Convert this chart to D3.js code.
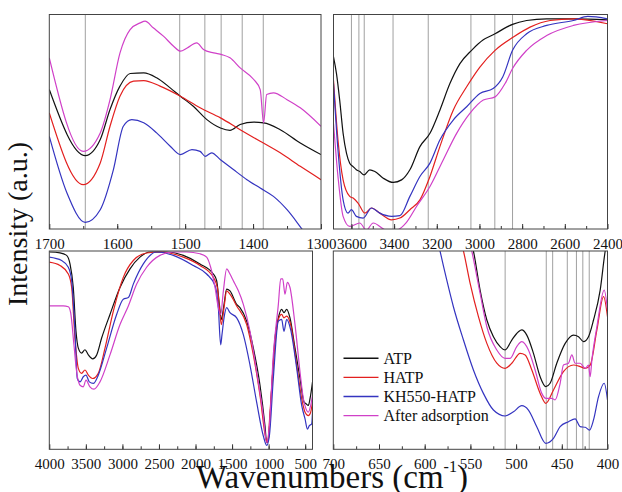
<!DOCTYPE html>
<html>
<head>
<meta charset="utf-8">
<script src="https://cdn.jsdelivr.net/npm/d3@7/dist/d3.min.js"></script>
<style>
  html, body { margin: 0; padding: 0; background: #fff; }
  svg { display: block; }
  text { font-family: "Liberation Serif", "Times New Roman", serif; fill: #111; }
</style>
</head>
<body>
<svg id="chart" width="622" height="492"></svg>
<script>
// Series names and legend labels
const seriesNames = ["ATP", "HATP", "KH550-HATP", "After adsorption"];

// Panel 1: 1700–1300 cm-1, [wavenumber, intensity a.u.]
const atp1 = [[1700,65],[1647,34.2],[1625,41.7],[1610.6,55.7],[1596,66.6],[1581,72.5],[1561,72.8],[1542,70.5],[1522,65.8],[1507,61.9],[1488,57.2],[1468,51],[1448,47.1],[1434,46],[1419,48.7],[1399,49.8],[1384.5,49.5],[1360,46.3],[1330.5,40.1],[1300,34.7]];
const hatp1 = [[1700,54.1],[1650,20.7],[1625,30.8],[1610.6,47.9],[1596,61.9],[1576,68.9],[1561,69.2],[1537,66.6],[1507,61.9],[1478,56.5],[1448,51.8],[1419,46.3],[1389.5,40.9],[1360,35.5],[1330.5,29.2],[1300,23]];
const kh1 = [[1700,43.2],[1674,16.8],[1647,3.1],[1625,9],[1605.6,27.7],[1591,47.9],[1578.6,51],[1561,49.5],[1542,44.8],[1522,38.6],[1507,34.7],[1490,37],[1478,36.2],[1470.5,33.9],[1461,35.5],[1448,32.3],[1429,27.7],[1409,23],[1389.5,19.1],[1370,15.2],[1350,9],[1328,0],[1316,-5]];
const ads1 = [[1700,79.8],[1650,36.2],[1625,44.8],[1610.6,60.3],[1596,82],[1581,93],[1566,96.1],[1559,96.9],[1547,93.8],[1532,89.9],[1517,85.2],[1507,82.9],[1497,84.4],[1483,86.8],[1473,83.7],[1458,82.1],[1446,81.3],[1434,79.8],[1419,75.1],[1399,69.7],[1389.5,65],[1384.5,49.5],[1380,62.7],[1370,63.5],[1350,60.3],[1330.5,56.5],[1300,47.9]];
const ticks1 = [1700, 1600, 1500, 1400, 1300];
const marks1 = [1647, 1508, 1471, 1447, 1416, 1385];

// Panel 2: 3684–2400 cm-1
const atp2 = [[3684,80.2],[3670,72.4],[3655,60.1],[3639,44.6],[3623,35.3],[3608,30.7],[3592,29.1],[3577,27.6],[3561,26.8],[3541,25.2],[3514,27.6],[3490,26.8],[3451,23.7],[3404,21.7],[3365,22.9],[3326,27.6],[3279,38.4],[3232,44.6],[3185.5,55.4],[3138.5,67.8],[3091.5,77.1],[3037,83.3],[2982,88.2],[2927,91],[2873,94.1],[2845,95.4],[2779,97.2],[2685,98],[2560,98],[2400,97.5]];
const hatp2 = [[3684,69.3],[3663,41.5],[3639,22.9],[3608,15.2],[3592,14.4],[3569,12.1],[3537,7.4],[3506,9.8],[3467,7.4],[3412,4.3],[3373,5.1],[3326,9],[3279,13.6],[3232,24.5],[3185.5,38.4],[3123,55.4],[3060,66.3],[2998,75.5],[2927,83.3],[2841,89.5],[2763,94.1],[2669,97.2],[2560,98],[2400,95.7]];
const kh2 = [[3684,67.8],[3663,36.8],[3639,13.6],[3616,7.4],[3600,9],[3577,5.9],[3545,5.1],[3506,9.8],[3467,7.4],[3412,5.9],[3373,6.2],[3326,15.2],[3279,24.5],[3232,30.7],[3185.5,41.5],[3123,50.8],[3060,57],[2998,63.2],[2936,65.5],[2891,70.9],[2845,83.3],[2779,91],[2685,94.9],[2560,97.2],[2492,99.1],[2400,98]];
const ads2 = [[3684,49.2],[3663,24.5],[3639,5.9],[3608,1.2],[3561,2.8],[3530,-0.5],[3498,2.8],[3436,-0.5],[3389,-0.5],[3342,3.1],[3295,10.5],[3232,19.8],[3170,32.2],[3107,44.6],[3045,53.9],[2982,60.1],[2927,61.6],[2880,67.8],[2845,74.8],[2779,83.3],[2685,90.2],[2560,94.9],[2400,97.2]];
const ticks2 = [3600, 3400, 3200, 3000, 2800, 2600, 2400];
const marks2 = [3600, 3565, 3540, 3405, 3240, 3040, 2928, 2845];

// Panel 3: full range 4000–400 cm-1
const atp3 = [[4000,99.5],[3854,99.1],[3763,97.8],[3717,93.5],[3672,81.6],[3635,59.5],[3603,51],[3558,48.5],[3512,50.2],[3466,47.6],[3407,45.6],[3352,47.6],[3284,56.1],[3170,68],[3033,81.6],[2896,91],[2760,96.9],[2623,99.5],[2395,99.5],[2167,97.8],[1939,93.5],[1756,88.4],[1711,85],[1674,73.1],[1647,65.5],[1610,73.1],[1574,80.8],[1529,79.9],[1437,73.1],[1392,71.4],[1300,64.6],[1209,51],[1118,32.3],[1050,11.9],[1027,3.4],[1004,5.1],[958,30.6],[913,56.1],[867,66.3],[822,70.6],[790,68.9],[753,70.6],[708,66.3],[639,51],[571,35.7],[516,23.8],[489,23],[457,22.1],[434,25.5],[400,34]];
const hatp3 = [[4000,94.4],[3854,92.7],[3740,88.4],[3694,81.6],[3649,56.1],[3603,40.8],[3558,38.3],[3512,40],[3466,37.4],[3407,35.7],[3330,38.3],[3238,51],[3124,69.7],[2988,86.7],[2851,95.2],[2669,99],[2486,99.5],[2167,96.9],[1939,92.7],[1756,86.7],[1702,81.6],[1665,68],[1647,62.9],[1610,71.4],[1574,79.9],[1529,78.2],[1437,72.3],[1300,62.9],[1209,47.6],[1118,27.2],[1036,5.1],[1013,3.4],[981,18.7],[927,47.6],[867,65.5],[822,68],[790,66.3],[753,67.2],[699,62.9],[616,42.5],[548,25.5],[502,18.7],[457,17],[425,18.7],[400,23.8]];
const kh3 = [[4000,96.9],[3831,95.2],[3740,91.8],[3694,85],[3649,59.5],[3617,35.7],[3580,34],[3535,36.6],[3498,37.4],[3453,34],[3398,33.2],[3330,37.4],[3216,51],[3079,68],[2988,75.7],[2919,76.5],[2851,83.3],[2714,93.5],[2532,99.5],[2304,97.8],[2030,92.7],[1848,88.4],[1733,82.5],[1688,71.4],[1656,52.7],[1638,57.8],[1610,66.3],[1574,71.4],[1529,68.9],[1437,66.3],[1346,57.8],[1255,42.5],[1164,23.8],[1073,6.8],[1027,2],[990,6.8],[936,35.7],[867,64.6],[822,65.5],[790,59.5],[753,65.5],[699,60.4],[616,40.8],[548,22.1],[502,15.3],[470,10.2],[443,11.9],[411,12.8],[400,18.7]];
const ads3 = [[4000,72.3],[3808,72.3],[3740,71.9],[3708,68.9],[3663,52.7],[3626,39.1],[3580,32.3],[3535,31.5],[3498,34.9],[3444,31.5],[3389,30.3],[3307,34],[3170,47.6],[3033,62.9],[2919,72.3],[2805,83.3],[2669,91.8],[2486,97.8],[2304,99.5],[2121,99.5],[1939,98.6],[1848,96.9],[1793,91.8],[1733,81.6],[1688,71.4],[1656,68],[1619,79.9],[1574,91],[1529,88.4],[1483,85],[1414,79.9],[1346,73.1],[1255,59.5],[1164,39.1],[1073,17],[1027,3.4],[990,11.9],[936,47.6],[867,73.1],[835,85.9],[808,85.9],[776,78.2],[744,84.2],[708,81.6],[639,62.9],[571,39.1],[525,25.5],[489,20.4],[457,18.7],[425,22.1],[400,27.2]];
const ticks3 = [4000, 3500, 3000, 2500, 2000, 1500, 1000, 500];
const marks3 = [];

// Panel 4: 700–400 cm-1
const atp4 = [[550,106],[546.7,100],[539.4,80.3],[532,65.2],[524.8,56.8],[517.5,51.8],[512,50.1],[504.7,55.1],[497.4,59.3],[493.8,60.2],[488.3,57.6],[481,48.4],[473.7,36.6],[467.5,31.6],[462.8,33.3],[455.5,43.4],[446.3,53.4],[437.2,57.6],[431.7,56.8],[426.3,54.3],[420.8,56.8],[415.3,65.2],[408,80.3],[402.5,100],[400,106]];
const hatp4 = [[561,106],[557.6,100],[550.3,83.7],[541.2,66.9],[532,53.4],[521.1,43.4],[512,40.8],[504.7,43.4],[495.6,48.4],[490.1,47.6],[482.8,40],[473.7,28.2],[467.5,23.2],[459.1,29.9],[448.2,39.2],[437.2,42.5],[429.9,41.7],[424.4,40.8],[418.9,42.5],[411.6,60.2],[404.3,77],[400,66.9]];
const kh4 = [[586,106],[583.2,100],[575.9,85.4],[568.6,71.9],[557.6,55.1],[546.7,40],[535.8,28.2],[524.8,19.8],[512,16.8],[502.9,18.9],[493.8,22],[486.5,19.8],[477.4,11.4],[467.5,3],[459.1,5.5],[451.8,11.4],[442.7,13.9],[435.4,15.3],[429.9,11.4],[424.4,11.1],[419.7,9.7],[415.3,14.8],[409.8,26.6],[403.6,33.3],[400,24.9]];
const ads4 = [[551.5,106],[548.5,100],[539.4,78.7],[532,61.8],[521.1,50.1],[512,45.9],[506.5,45.9],[499.3,51.8],[493.8,54.3],[486.5,50.1],[479.2,40],[471.9,28.2],[467.5,25.7],[460.9,25.7],[457.3,24.9],[451.8,33.3],[448.2,42.5],[442.7,43.4],[439,47.6],[435.4,43.4],[429.9,43.4],[424.4,40.8],[420.8,42.5],[419,36.6],[417.1,45],[411.6,61.8],[403.6,80.3],[400,70.3]];
const ticks4 = [700, 650, 600, 550, 500, 450, 400];
const marks4 = [512, 467, 460, 444, 434, 427, 420];

const colors = ["#111111", "#e3201f", "#3434c0", "#d040c8"];

const svg = d3.select("#chart");

// Panel frames in pixels and their axis settings
const panels = [
  { box: [49.3, 321, 14.5, 229], domain: [1700, 1300], ticks: ticks1, minor: 50, marks: marks1, data: [atp1, hatp1, kh1, ads1] },
  { box: [333.5, 607.5, 14.5, 229], domain: [3684, 2400], ticks: ticks2, minor: 100, marks: marks2, data: [atp2, hatp2, kh2, ads2] },
  { box: [49.3, 312.5, 251, 449.3], domain: [4000, 400], ticks: ticks3, minor: 250, marks: marks3, data: [atp3, hatp3, kh3, ads3] },
  { box: [333.3, 607.5, 251, 449.3], domain: [700, 400], ticks: ticks4, minor: 25, marks: marks4, data: [atp4, hatp4, kh4, ads4] }
];

panels.forEach((p, i) => {
  const [x0, x1, y0, y1] = p.box;
  const x = d3.scaleLinear().domain(p.domain).range([x0, x1]);
  const y = d3.scaleLinear().domain([0, 100]).range([y1, y0]);

  const clipId = "clip" + i;
  svg.append("clipPath").attr("id", clipId)
    .append("rect").attr("x", x0).attr("y", y0).attr("width", x1 - x0).attr("height", y1 - y0);

  const g = svg.append("g");

  // reference band positions
  g.selectAll("line.mark").data(p.marks).join("line")
    .attr("class", "mark")
    .attr("x1", d => x(d)).attr("x2", d => x(d))
    .attr("y1", y0).attr("y2", y1)
    .attr("stroke", "#a0a0a0").attr("stroke-width", 1);

  // spectra
  const line = d3.line().x(d => x(d[0])).y(d => y(d[1])).curve(d3.curveMonotoneX);
  const plot = g.append("g").attr("clip-path", `url(#${clipId})`);
  p.data.forEach((s, k) => {
    plot.append("path").datum(s)
      .attr("d", line)
      .attr("fill", "none")
      .attr("stroke", colors[k])
      .attr("stroke-width", 1.2)
      .attr("stroke-linejoin", "round");
  });

  // minor ticks (inward)
  const lo = Math.min(...p.domain), hi = Math.max(...p.domain);
  const minorVals = d3.range(Math.ceil(lo / p.minor) * p.minor, hi + 0.001, p.minor)
    .filter(v => v > lo && v < hi);
  const minorAxis = d3.axisBottom(x).tickValues(minorVals).tickSize(-3).tickFormat("");
  const ma = g.append("g").attr("transform", `translate(0,${y1})`).call(minorAxis);
  ma.select(".domain").remove();
  ma.selectAll("line").attr("stroke", "#333");

  // major ticks with labels
  const axis = d3.axisBottom(x).tickValues(p.ticks).tickSize(-5).tickPadding(9).tickFormat(d3.format("d"));
  const ax = g.append("g").attr("transform", `translate(0,${y1})`).call(axis);
  ax.select(".domain").remove();
  ax.selectAll("line").attr("stroke", "#333");
  ax.selectAll("text")
    .attr("font-family", "Liberation Serif, serif")
    .attr("font-size", 15)
    .attr("fill", "#111");

  // frame
  g.append("rect")
    .attr("x", x0).attr("y", y0).attr("width", x1 - x0).attr("height", y1 - y0)
    .attr("fill", "none").attr("stroke", "#444").attr("stroke-width", 1);

  // legend lives in the last panel
  if (i === 3) {
    const lg = g.append("g");
    seriesNames.forEach((name, k) => {
      const ly = 358.3 + k * 19.1;
      lg.append("line").attr("x1", 343.5).attr("x2", 378.5).attr("y1", ly).attr("y2", ly)
        .attr("stroke", colors[k]).attr("stroke-width", 1.4);
      lg.append("text").attr("x", 383.5).attr("y", ly).attr("dy", "0.35em")
        .attr("font-size", 16).text(name);
    });
  }
});

// axis titles
svg.append("text")
  .attr("transform", "translate(27,224) rotate(-90)")
  .attr("text-anchor", "middle")
  .attr("font-size", 28)
  .text("Intensity (a.u.)");

const xt = svg.append("text")
  .attr("x", 332).attr("y", 488)
  .attr("text-anchor", "middle")
  .attr("font-size", 33);
xt.append("tspan").text("Wavenumbers (cm");
xt.append("tspan").attr("font-size", 16).attr("dy", -16).text("-1");
xt.append("tspan").attr("dy", 16).text(")");
</script>
</body>
</html>
